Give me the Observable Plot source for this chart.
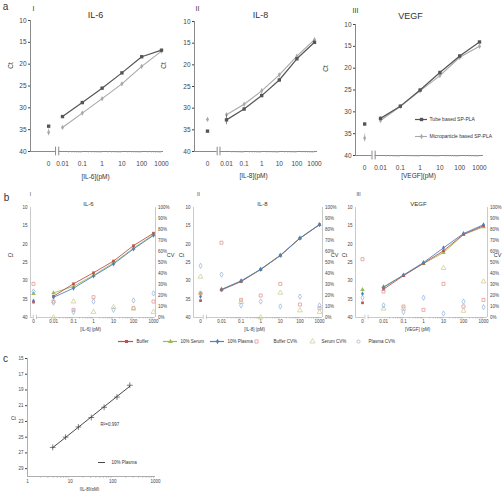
<!DOCTYPE html>
<html><head><meta charset="utf-8">
<script src="https://cdn.jsdelivr.net/npm/d3@7"></script>
<script src="https://cdn.jsdelivr.net/npm/@observablehq/plot@0.6"></script>
<style>
body{margin:0;background:#fff;}
#wrap{position:relative;width:504px;height:491px;overflow:hidden;background:#fff;}
#wrap svg{position:absolute;left:0;top:0;}
</style></head><body><div id="wrap"></div>
<script>
// ---------- data ----------
const conc = ["0","0.01","0.1","1","10","100","1000"];

// panel a (Ct)
const aIL6Tube   = [34.2, 32.0, 28.8, 25.5, 22.0, 18.3, 16.8];
const aIL6Micro  = [35.6, 34.5, 31.2, 27.9, 24.5, 20.5, 17.0];
const aIL8Tube   = [35.3, 32.7, 30.2, 27.1, 23.5, 18.6, 14.8];
const aIL8Micro  = [32.6, 31.5, 29.1, 26.0, 22.3, 18.0, 14.2];
const aVEGFTube  = [32.8, 31.5, 28.7, 25.0, 21.0, 17.2, 14.0];
const aVEGFMicro = [36.0, 32.0, 28.8, 25.2, 21.7, 17.5, 15.0];
const aIL6TubeSD   = [0.2, 0.2, 0.3, 0.2, 0.2, 0.2, 0.2];
const aIL6MicroSD  = [0.8, 0.2, 0.2, 0.2, 0.2, 0.2, 0.2];
const aIL8TubeSD   = [0.2, 1.1, 0.3, 0.4, 0.4, 0.3, 0.2];
const aIL8MicroSD  = [0.2, 0.3, 0.3, 0.5, 0.3, 0.2, 0.2];
const aVEGFTubeSD  = [0.3, 0.3, 0.2, 0.2, 0.3, 0.2, 0.2];
const aVEGFMicroSD = [0.9, 0.4, 0.2, 0.2, 0.4, 0.3, 0.2];

// panel b (Ct)
const bIL6Buffer  = [35.8, 34.2, 30.8, 27.8, 24.6, 20.4, 17.0];
const bIL6Serum   = [33.5, 33.3, 31.5, 28.5, 25.1, 21.1, 17.4];
const bIL6Plasma  = [35.5, 34.5, 32.0, 28.7, 25.4, 21.3, 17.6];
const bIL8Buffer  = [35.4, 32.5, 30.2, 26.9, 23.1, 18.4, 14.7];
const bIL8Serum   = [33.4, 32.3, 30.1, 26.8, 23.0, 18.3, 14.6];
const bIL8Plasma  = [34.3, 32.4, 30.0, 26.9, 23.1, 18.4, 14.7];
const bVEGFBuffer = [36.0, 32.3, 28.6, 25.2, 21.8, 17.3, 15.0];
const bVEGFSerum  = [32.4, 31.6, 28.5, 25.3, 22.3, 17.4, 15.3];
const bVEGFPlasma = [33.5, 31.8, 28.4, 25.0, 21.0, 17.1, 14.7];
// panel b (CV %)
const bIL6BufferCV  = [30.6, 14.5, 7, 18.5, null, 8.5, 14.5];
const bIL6SerumCV   = [null, 0, 14.5, 5, 9.4, 8, 5];
const bIL6PlasmaCV  = [23.6, 13.5, 5, 14.5, 7, 15.5, 22];
const bIL8BufferCV  = [22, 68, 16, 20, 30.6, 11.8, 8.5];
const bIL8SerumCV   = [37, null, 14, 0, 22.4, 6.4, 5];
const bIL8PlasmaCV  = [47, 39, 11, 14.5, 10, 19, 11];
const bVEGFBufferCV = [53, 23.6, 10, 7, 30.6, 10, 16];
const bVEGFSerumCV  = [null, 8, 8, null, 45, 6, 32.7];
const bVEGFPlasmaCV = [18, 11, 5, 18, 3.6, 14.5, 9.4];

// panel c
const cConc = [3.9, 7.8, 15.6, 31.25, 62.5, 125, 250];
const cCt   = [26.3, 25.0, 23.7, 22.5, 21.2, 19.9, 18.4];

// ---------- layout ----------
const FONT = "'Liberation Sans', Arial, sans-serif";
const LA = [
  {L:30,  R:163, T:20, B:151, p1:62,  s:19.8, z:-0.7,  brk:-0.27},
  {L:194, R:317, T:21, B:151, p1:226, s:17.6, z:-1.08, brk:-0.45},
  {L:355, R:483, T:24, B:155, p1:380, s:19.8, z:-0.8,  brk:-0.35}
];
const LB = [
  {L:30,  R:155, T:207, B:317, p1:53,  s:20,   z:-1.0,  brk:-0.93},
  {L:193, R:322, T:207, B:317, p1:221, s:19.6, z:-1.07, brk:-0.85},
  {L:355, R:487, T:207, B:317, p1:383, s:20,   z:-1.05, brk:-0.85}
];
const wrap = document.getElementById("wrap");
const add = p => wrap.appendChild(p);
const base = (c, fs) => ({
  width:504, height:491,
  marginLeft:c.L, marginRight:504-c.R, marginTop:c.T, marginBottom:491-c.B,
  style:`background:transparent;overflow:visible;font-family:${FONT};font-size:${fs}px;color:#444;position:absolute;left:0;top:0;`
});
const pos = (i, z) => i === 0 ? z : i - 1;
const rows = (vals, sd, z) => vals.map((v, i) => ({x:pos(i, z), y:v, i, e: sd ? sd[i] : 0})).filter(d => d.y != null);
const xfmt = z => d => conc[Math.abs(d - z) < 1e-6 ? 0 : Math.round(d) + 1];
const minors = [];
for (let d = 0; d < 5; d++) for (let k = 2; k < 10; k++) minors.push(d + Math.log10(k));
const xdom = c => [(c.L - c.p1) / c.s, (c.R - c.p1) / c.s];

function axesMarks(c, ax, brkH, lw) {
  const xd = xdom(c);
  return [
    Plot.ruleX([xd[0]], {y1:40, y2:10, stroke:ax, strokeWidth:lw}),
    Plot.ruleY([40], {x1:xd[0], x2:c.brk - 0.08, stroke:ax, strokeWidth:lw}),
    Plot.ruleY([40], {x1:c.brk + 0.08, x2:xd[1], stroke:ax, strokeWidth:lw}),
    Plot.ruleX([c.brk - 0.08, c.brk + 0.08], {y1:40 + brkH, y2:40 - brkH, stroke:ax, strokeWidth:lw}),
    Plot.ruleX(minors, {y1:40, y2:40.4, stroke:"#aaa", strokeWidth:0.6})
  ];
}
function series(data, color, symbol, r, sw) {
  return [
    Plot.ruleX(data.filter(d => d.e > 0.25), {x:"x", y1:d => d.y - d.e, y2:d => d.y + d.e, stroke:color, strokeWidth:0.7}),
    Plot.line(data.filter(d => d.i > 0), {x:"x", y:"y", stroke:color, strokeWidth:sw}),
    Plot.dot(data, {x:"x", y:"y", symbol, fill:color, stroke:"none", r})
  ];
}

// ---------- panel a ----------
function panelA(c, tube, micro, tubeSD, microSD) {
  return Plot.plot({
    ...base(c, 6.5),
    x:{domain:xdom(c), ticks:[c.z,0,1,2,3,4,5], tickFormat:xfmt(c.z), tickSize:0, tickPadding:9.5, label:null},
    y:{domain:[40,10], ticks:[10,15,20,25,30,35,40], tickSize:2, tickPadding:2, label:null},
    marks:[
      ...axesMarks(c, "#8a8a8a", 1, 1),
      ...series(rows(micro, microSD, c.z), "#a8a8a8", "diamond", 1.6, 1.1),
      ...series(rows(tube, tubeSD, c.z), "#555555", "square", 1.9, 1.2)
    ]
  });
}
add(panelA(LA[0], aIL6Tube, aIL6Micro, aIL6TubeSD, aIL6MicroSD));
add(panelA(LA[1], aIL8Tube, aIL8Micro, aIL8TubeSD, aIL8MicroSD));
add(panelA(LA[2], aVEGFTube, aVEGFMicro, aVEGFTubeSD, aVEGFMicroSD));

// ---------- panel b ----------
const cBuf = "#c0504d", cSer = "#9bbb59", cPla = "#4f81bd";
const cBufCV = "#e08c8a", cSerCV = "#c9c98e", cPlaCV = "#8fb0d8";
function panelB(c, buf, ser, pla, bufCV, serCV, plaCV) {
  const xd = xdom(c);
  add(Plot.plot({
    ...base(c, 4.5),
    x:{domain:xd, ticks:[c.z,0,1,2,3,4,5], tickFormat:xfmt(c.z), tickSize:0, tickPadding:2.4, label:null},
    y:{domain:[40,10], ticks:[10,15,20,25,30,35,40], tickSize:0, tickPadding:3, label:null},
    marks:[
      ...axesMarks(c, "#bdbdbd", 0.6, 0.8),
      Plot.ruleX([xd[1]], {y1:40, y2:10, stroke:"#bdbdbd", strokeWidth:0.8}),
      ...series(rows(ser, null, c.z), cSer, "triangle", 1.7, 0.9),
      ...series(rows(buf, null, c.z), cBuf, "square", 1.5, 0.9),
      ...series(rows(pla, null, c.z), cPla, "diamond", 1.5, 0.9)
    ]
  }));
  add(Plot.plot({
    ...base(c, 4.5),
    x:{domain:xd, axis:null},
    y:{domain:[0,100], axis:"right", ticks:d3.range(0,101,10), tickFormat:d => d + "%", tickSize:0, tickPadding:2.5, label:null},
    marks:[
      Plot.dot(rows(bufCV, null, c.z), {x:"x", y:"y", symbol:"square", stroke:cBufCV, fill:"none", strokeWidth:0.7, r:1.7}),
      Plot.dot(rows(serCV, null, c.z), {x:"x", y:"y", symbol:"triangle", stroke:cSerCV, fill:"none", strokeWidth:0.7, r:1.8}),
      Plot.dot(rows(plaCV, null, c.z), {x:"x", y:"y", symbol:"diamond", stroke:cPlaCV, fill:"none", strokeWidth:0.7, r:1.6})
    ]
  }));
}
panelB(LB[0], bIL6Buffer, bIL6Serum, bIL6Plasma, bIL6BufferCV, bIL6SerumCV, bIL6PlasmaCV);
panelB(LB[1], bIL8Buffer, bIL8Serum, bIL8Plasma, bIL8BufferCV, bIL8SerumCV, bIL8PlasmaCV);
panelB(LB[2], bVEGFBuffer, bVEGFSerum, bVEGFPlasma, bVEGFBufferCV, bVEGFSerumCV, bVEGFPlasmaCV);

// ---------- panel c ----------
{
  const c = {L:27, R:155, T:358, B:476};
  const pts = cConc.map((x, i) => ({x, y:cCt[i]}));
  const lx = cConc.map(Math.log10), mx = d3.mean(lx), my = d3.mean(cCt);
  const slope = d3.sum(lx.map((v, i) => (v - mx) * (cCt[i] - my))) / d3.sum(lx.map(v => (v - mx) ** 2));
  const icpt = my - slope * mx;
  const fit = [cConc[0], cConc[cConc.length - 1]].map(x => ({x, y:icpt + slope * Math.log10(x)}));
  const cmin = [];
  for (let d = 0; d < 3; d++) for (let k = 2; k < 10; k++) cmin.push(k * 10 ** d);
  add(Plot.plot({
    ...base(c, 4.5),
    x:{type:"log", domain:[1,1000], ticks:[1,10,100,1000], tickFormat:d => String(d), tickSize:0, tickPadding:3.5, label:null},
    y:{domain:[30,15], ticks:[15,17,19,21,23,25,27,29], tickSize:2, tickPadding:2, label:null},
    marks:[
      Plot.ruleX([1], {y1:30, y2:15, stroke:"#999", strokeWidth:0.8}),
      Plot.ruleY([30], {x1:1, x2:1000, stroke:"#999", strokeWidth:0.8}),
      Plot.ruleX(cmin, {y1:30, y2:30.25, stroke:"#aaa", strokeWidth:0.6}),
      Plot.line(fit, {x:"x", y:"y", stroke:"#333", strokeWidth:0.9}),
      Plot.dot(pts, {x:"x", y:"y", symbol:"plus", stroke:"#444", strokeWidth:0.7, r:2})
    ]
  }));
}

// ---------- annotations ----------
const midLabels = [
  {t:"a", x:5, y:6, s:10}, {t:"b", x:6, y:197, s:10}, {t:"c", x:5, y:358, s:10},
  {t:"I", x:33, y:8, s:7}, {t:"IL-6", x:95, y:15, s:9},
  {t:"II", x:197, y:8, s:7}, {t:"IL-8", x:260, y:15, s:9},
  {t:"III", x:355, y:10, s:7}, {t:"VEGF", x:410, y:16, s:9},
  {t:"Ct", x:10, y:65, s:6.5, r:-90}, {t:"Ct", x:163, y:65, s:6.5, r:-90}, {t:"Ct", x:325, y:68, s:6.5, r:-90},
  {t:"[IL-6](pM)", x:95, y:176, s:6.5}, {t:"[IL-8](pM)", x:253, y:175, s:6.5}, {t:"[VEGF](pM)", x:418, y:175, s:6.5},
  {t:"I", x:30, y:194, s:5}, {t:"IL-6", x:88, y:204, s:6},
  {t:"II", x:198, y:194, s:5}, {t:"IL-8", x:262, y:204, s:6},
  {t:"III", x:358, y:194, s:5}, {t:"VEGF", x:418, y:204, s:6},
  {t:"Ct", x:10, y:255, s:5.5}, {t:"CV", x:170, y:255, s:5.5}, {t:"Ct", x:181, y:255, s:5.5},
  {t:"CV", x:334, y:255, s:5.5}, {t:"Ct", x:344, y:255, s:5.5}, {t:"CV", x:497, y:255, s:5.5},
  {t:"[IL-6] (pM)", x:90, y:329, s:4.5}, {t:"[IL-8] (pM)", x:254, y:329, s:4.5}, {t:"[VEGF] (pM)", x:417, y:329, s:4.5},
  {t:"Ct", x:13, y:418, s:5}, {t:"[IL-8](pM)", x:89, y:489, s:4.5}
];
const startLabels = [
  {t:"Tube based SP-PLA", x:429, y:119, s:5}, {t:"Microparticle based SP-PLA", x:429, y:136, s:5},
  {t:"Buffer", x:136, y:341, s:4.5}, {t:"10% Serum", x:180, y:341, s:4.5}, {t:"10% Plasma", x:227, y:341, s:4.5},
  {t:"Buffer CV%", x:273, y:341, s:4.5}, {t:"Serum CV%", x:321, y:341, s:4.5}, {t:"Plasma CV%", x:368, y:341, s:4.5},
  {t:"R²=0.997", x:100, y:424, s:4.5}, {t:"10% Plasma", x:111, y:462, s:4.5}
];
const sw = (x1, x2, y, color, w) => Plot.ruleY([y], {x1, x2, stroke:color, strokeWidth:w});
const mk = (x, y, symbol, opts) => Plot.dot([{x, y}], {x:"x", y:"y", symbol, ...opts});
add(Plot.plot({
  width:504, height:491, margin:0,
  style:`background:transparent;overflow:visible;font-family:${FONT};position:absolute;left:0;top:0;`,
  x:{type:"identity", axis:null}, y:{type:"identity", axis:null},
  marks:[
    Plot.text(midLabels, {x:"x", y:"y", text:"t", fontSize:"s", rotate:d => d.r || 0, fill:"#333", textAnchor:"middle"}),
    Plot.text(startLabels, {x:"x", y:"y", text:"t", fontSize:"s", fill:"#333", textAnchor:"start"}),
    // panel a legend
    sw(415, 427, 119, "#555", 1.2), mk(421, 119, "square", {fill:"#555", r:1.9}),
    sw(415, 427, 136, "#a8a8a8", 1.1), mk(421, 136, "diamond", {fill:"#a8a8a8", r:1.6}),
    // panel b legend
    sw(118, 133, 341, cBuf, 1.2), mk(126, 341, "square", {fill:cBuf, r:1.7}),
    sw(163, 177, 341, cSer, 1.2), mk(170, 341, "triangle", {fill:cSer, r:1.8}),
    sw(210, 224, 341, cPla, 1.2), mk(217, 341, "diamond", {fill:cPla, r:1.7}),
    mk(256, 341, "square", {stroke:cBufCV, fill:"none", strokeWidth:0.7, r:1.8}),
    mk(312, 341, "triangle", {stroke:cSerCV, fill:"none", strokeWidth:0.7, r:1.9}),
    mk(358, 341, "circle", {stroke:cPlaCV, fill:"none", strokeWidth:0.7, r:1.6}),
    // panel c legend
    sw(98, 105, 462, "#333", 0.9)
  ]
}));
</script></body></html>
